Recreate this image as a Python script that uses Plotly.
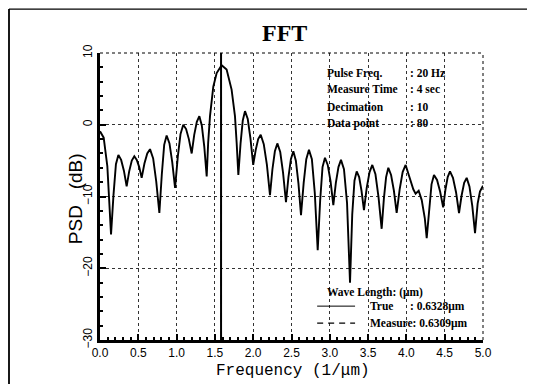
import plotly.graph_objects as go

# ---- data ----
freq = [0.0, 0.048, 0.096, 0.144, 0.176, 0.208, 0.24, 0.276, 0.312, 0.348, 0.381, 0.415, 0.448,
        0.48, 0.512, 0.544, 0.580, 0.617, 0.653, 0.694, 0.734, 0.775, 0.807, 0.838, 0.87,
        0.907, 0.943, 0.98, 1.016, 1.051, 1.087, 1.124, 1.160, 1.197, 1.230, 1.264, 1.297,
        1.329, 1.361, 1.393, 1.412, 1.436, 1.479, 1.523, 1.588, 1.653, 1.718, 1.762, 1.784, 1.806,
        1.835, 1.864, 1.893, 1.929, 1.964, 2.0, 2.033, 2.065, 2.098, 2.138, 2.179, 2.219,
        2.251, 2.283, 2.315, 2.353, 2.390, 2.428, 2.460, 2.492, 2.524, 2.557, 2.591, 2.624,
        2.659, 2.693, 2.728, 2.766, 2.804, 2.842, 2.874, 2.905, 2.937, 2.973, 3.010, 3.046,
        3.079, 3.113, 3.146, 3.185, 3.225, 3.264, 3.293, 3.322, 3.351, 3.383, 3.414, 3.446,
        3.482, 3.519, 3.555, 3.596, 3.636, 3.677, 3.706, 3.735, 3.764, 3.800, 3.837, 3.873,
        3.912, 3.951, 3.99, 4.05, 4.09, 4.12, 4.16, 4.20, 4.24, 4.265, 4.297, 4.328, 4.36,
        4.40, 4.44, 4.48, 4.510, 4.539, 4.569, 4.608, 4.648, 4.687, 4.720, 4.754, 4.787,
        4.823, 4.860, 4.896, 4.93, 4.96, 5.0]
psd = [-0.9, -1.8, -5.8, -15.3, -9.8, -5.5, -4.2, -4.9, -6.4, -8.6, -6.5, -5.0, -4.4,
       -4.9, -5.9, -7.4, -5.4, -4.0, -3.4, -4.7, -7.9, -12.3, -6.9, -2.8, -1.5,
       -2.6, -5.2, -8.8, -4.4, -1.3, 0.0, -0.6, -2.0, -4.0, -1.4, 0.4, 1.2,
       -0.1, -3.0, -7.2, -2.5, 1.2, 5.3, 7.2, 8.3, 7.7, 4.9, 1.2, -2.5, -7.0,
       -2.6, 0.6, 1.9, 0.8, -1.9, -5.6, -3.5, -2.0, -1.4, -2.7, -5.6, -9.8,
       -6.2, -3.7, -2.6, -3.8, -6.7, -10.8, -7.3, -4.8, -3.7, -5.0, -8.2, -12.6,
       -8.1, -4.8, -3.5, -4.8, -9.5, -17.5, -10.6, -5.9, -4.6, -5.6, -7.9, -11.2,
       -8.1, -5.9, -4.9, -6.2, -10.9, -22.0, -12.5, -7.8, -6.5, -7.3, -9.2, -11.9,
       -8.8, -6.6, -5.6, -6.9, -10.1, -14.5, -10.3, -7.3, -6.0, -7.0, -9.2, -12.3,
       -9.0, -6.6, -5.6, -7.5, -9.0, -9.6, -9.2, -10.5, -13.0, -15.8, -11.4, -8.3, -7.0,
       -7.7, -9.3, -11.5, -9.0, -7.3, -6.5, -7.4, -9.4, -12.3, -9.9, -8.1, -7.4,
       -8.6, -11.3, -15.1, -11.0, -9.3, -8.5]

info_labels = ["Pulse Freq.", "Measure Time", "Decimation", "Data point"]
info_values = [": 20 Hz", ": 4 sec", ": 10", ": 80"]
true_wl = 0.6328      # um
meas_wl = 0.6309      # um
x_ticks = [0.0, 0.5, 1.0, 1.5, 2.0, 2.5, 3.0, 3.5, 4.0, 4.5, 5.0]
y_ticks = [10, 0, -10, -20, -30]

fig = go.Figure()
fig.add_trace(go.Scatter(x=freq, y=psd, mode="lines",
                         line=dict(color="black", width=1.9), showlegend=False))

# marker lines for true / measured wavelength
fig.add_shape(type="line", xref="x", yref="y", x0=1 / true_wl, x1=1 / true_wl, y0=-30, y1=10,
              line=dict(color="black", width=2))
fig.add_shape(type="line", xref="x", yref="y", x0=1 / meas_wl, x1=1 / meas_wl, y0=-30, y1=10,
              line=dict(color="black", width=1.2, dash="dash"))

# dotted top / right borders
fig.add_shape(type="line", xref="paper", yref="paper", x0=0, x1=1, y0=1, y1=1,
              line=dict(color="black", width=1, dash="dot"))
fig.add_shape(type="line", xref="paper", yref="paper", x0=1, x1=1, y0=0, y1=1,
              line=dict(color="black", width=1, dash="dot"))

# outer frame: left and top sides only (the rest lies beyond the page)
fig.add_shape(type="line", xref="paper", yref="paper", x0=-0.2376, x1=-0.2376, y0=-0.2, y1=1.153,
              line=dict(color="black", width=1.8))
fig.add_shape(type="line", xref="paper", yref="paper", x0=-0.2376, x1=1.2, y0=1.153, y1=1.153,
              line=dict(color="black", width=1.4))

axis_font = dict(family="Liberation Sans", size=12, color="black")
fig.update_xaxes(range=[0, 5], tickvals=x_ticks, tickformat=".1f",
                 showgrid=True, gridcolor="#333", griddash="dot", gridwidth=1,
                 showline=True, linecolor="black", linewidth=2.5, mirror=False,
                 ticks="inside", ticklen=6, tickwidth=1.5, tickcolor="black",
                 minor=dict(dtick=0.1, ticks="inside", ticklen=3, tickcolor="black", showgrid=False),
                 zeroline=False, tickfont=axis_font)
fig.update_yaxes(range=[-30, 10], tickvals=y_ticks, tickangle=-90,
                 showgrid=True, gridcolor="#333", griddash="dot", gridwidth=1,
                 showline=True, linecolor="black", linewidth=2.5, mirror=False,
                 ticks="inside", ticklen=6, tickwidth=1.5, tickcolor="black",
                 minor=dict(dtick=2, ticks="inside", ticklen=3, tickcolor="black", showgrid=False),
                 zeroline=False, tickfont=axis_font)

ann = []
ann.append(dict(text="<b>FFT</b>", x=0.483, y=1.07, xref="paper", yref="paper", showarrow=False,
                xanchor="center", yanchor="middle",
                font=dict(family="Liberation Serif", size=24, color="black")))
ann.append(dict(text="Frequency (1/μm)", x=0.504, y=-0.108, xref="paper", yref="paper",
                xanchor="center", yanchor="middle",
                showarrow=False, font=dict(family="Liberation Mono", size=16, color="black")))
ann.append(dict(text="PSD   (dB)", x=-0.065, y=0.491, xref="paper", yref="paper", textangle=-90,
                xanchor="center", yanchor="middle",
                showarrow=False, font=dict(family="Liberation Sans", size=19, color="black")))
info_font = dict(family="Liberation Serif", size=11.5, color="black")
ys = [0.930, 0.875, 0.812, 0.756]
for lab, val, yy in zip(info_labels, info_values, ys):
    ann.append(dict(text="<b>" + lab + "</b>", x=0.587, y=yy, xref="paper", yref="paper",
                    xanchor="left", yanchor="middle", showarrow=False, font=info_font))
    ann.append(dict(text="<b>" + val + "</b>", x=0.804, y=yy, xref="paper", yref="paper",
                    xanchor="left", yanchor="middle", showarrow=False, font=info_font))
ann.append(dict(text="<b>Wave Length: (μm)</b>", x=0.587, y=0.167, xref="paper", yref="paper",
                xanchor="left", yanchor="middle", showarrow=False, font=info_font))
ann.append(dict(text="<b>True</b>", x=0.700, y=0.118, xref="paper", yref="paper",
                xanchor="left", yanchor="middle", showarrow=False, font=info_font))
ann.append(dict(text="<b>: %.4fμm</b>" % true_wl, x=0.804, y=0.118, xref="paper", yref="paper",
                xanchor="left", yanchor="middle", showarrow=False, font=info_font))
ann.append(dict(text="<b>Measure: %.4fμm</b>" % meas_wl, x=0.700, y=0.059, xref="paper", yref="paper",
                xanchor="left", yanchor="middle", showarrow=False, font=info_font))
fig.add_shape(type="line", xref="paper", yref="paper", x0=0.567, x1=0.666, y0=0.118, y1=0.118,
              line=dict(color="black", width=1))
fig.add_shape(type="line", xref="paper", yref="paper", x0=0.567, x1=0.666, y0=0.059, y1=0.059,
              line=dict(color="black", width=1.2, dash="6px,5px"))

fig.update_layout(width=527, height=376, margin=dict(l=92, r=52, t=45, b=44),
                  paper_bgcolor="white", plot_bgcolor="white", annotations=ann,
                  showlegend=False)
fig.write_html("out.html", config={"displayModeBar": False})
